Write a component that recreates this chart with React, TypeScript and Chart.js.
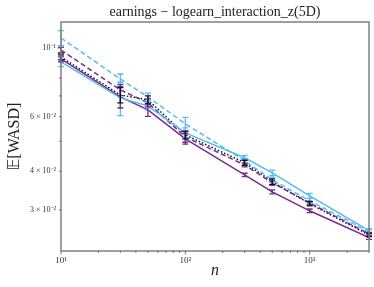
import React, { useEffect, useRef } from "react";
import { Chart, registerables } from "chart.js";
Chart.register(...registerables);

const titleText = "earnings − logearn_interaction_z(5D)";
const xLabel = "n";
const yLabelSymbol = "𝔼";
const yLabelRest = "[WASD]";

const nValues = [10, 30, 50, 100, 300, 500, 1000, 3000];

const blueSolid = [0.0901, 0.069, 0.065, 0.0532, 0.0442, 0.0395, 0.0333, 0.0257];
const blueSolidErr = [0.003, 0.0085, 0.002, 0.002, 0.0008, 0.0008, 0.0006, 0.0004];

const blueDashed = [0.1077, 0.0794, 0.0695, 0.0569, 0.0432, 0.0375, 0.0321, 0.0255];
const blueDashedErr = [0.006, 0.003, 0.002, 0.0028, 0.0008, 0.0008, 0.0006, 0.0004];

const purpleSolid = [0.0922, 0.0695, 0.0631, 0.0509, 0.0389, 0.0343, 0.0298, 0.0244];
const purpleSolidErr = [0.002, 0.0055, 0.003, 0.002, 0.0005, 0.0005, 0.0004, 0.0003];

const purpleDashed = [0.0985, 0.0732, 0.0665, 0.0516, 0.0419, 0.0367, 0.0316, 0.0251];
const purpleDashedErr = [0.002, 0.003, 0.002, 0.002, 0.0006, 0.0006, 0.0004, 0.0003];

const blackDotted = [0.0935, 0.0705, 0.068, 0.0524, 0.0426, 0.037, 0.0314, 0.0249];
const blackDottedErr = [0.002, 0.004, 0.002, 0.0015, 0.0008, 0.0008, 0.0005, 0.0003];

const xTickValues = [10, 20, 30, 40, 50, 60, 70, 80, 90, 100, 200, 300, 400, 500, 600, 700, 800, 900, 1000, 2000, 3000];
const xTickLabels: Record<number, string> = { 10: "10¹", 100: "10²", 1000: "10³" };
const yTickValues = [0.03, 0.04, 0.05, 0.06, 0.07, 0.08, 0.09, 0.1];
const yTickLabels: Record<number, string> = { 0.03: "3 × 10⁻²", 0.04: "4 × 10⁻²", 0.06: "6 × 10⁻²", 0.1: "10⁻¹" };

const BLUE = "#56bdf0";
const PURPLE = "#7a2a8e";
const BLACK = "#111111";

const errors = [blueSolidErr, blueDashedErr, purpleSolidErr, purpleDashedErr, blackDottedErr];

const decorPlugin = {
  id: "decor",
  afterDatasetsDraw(chart: any) {
    const ctx = chart.ctx;
    const xs = chart.scales.x;
    const ys = chart.scales.y;
    ctx.save();
    chart.data.datasets.forEach((ds: any, i: number) => {
      const err = errors[i];
      ctx.strokeStyle = ds.borderColor;
      ctx.lineWidth = 1.3;
      ctx.setLineDash([]);
      ds.data.forEach((p: any, j: number) => {
        const x = xs.getPixelForValue(p.x);
        const y1 = ys.getPixelForValue(p.y - err[j]);
        const y2 = ys.getPixelForValue(p.y + err[j]);
        ctx.beginPath();
        ctx.moveTo(x, y1);
        ctx.lineTo(x, y2);
        ctx.moveTo(x - 3, y1);
        ctx.lineTo(x + 3, y1);
        ctx.moveTo(x - 3, y2);
        ctx.lineTo(x + 3, y2);
        ctx.stroke();
      });
    });
    ctx.restore();
  },
  afterDraw(chart: any) {
    const ctx = chart.ctx;
    const a = chart.chartArea;
    const xs = chart.scales.x;
    const ys = chart.scales.y;
    ctx.save();
    ctx.strokeStyle = "#808080";
    ctx.lineWidth = 1.5;
    ctx.setLineDash([]);
    ctx.strokeRect(a.left, a.top, a.right - a.left, a.bottom - a.top);
    ctx.lineWidth = 0.8;
    ctx.strokeStyle = "#555";
    xTickValues.forEach((v) => {
      const x = xs.getPixelForValue(v);
      const len = xTickLabels[v] ? 3.5 : 2;
      ctx.beginPath();
      ctx.moveTo(x, a.bottom);
      ctx.lineTo(x, a.bottom + len);
      ctx.stroke();
    });
    yTickValues.forEach((v) => {
      const y = ys.getPixelForValue(v);
      const len = v === 0.1 ? 3.5 : 2;
      ctx.beginPath();
      ctx.moveTo(a.left, y);
      ctx.lineTo(a.left - len, y);
      ctx.stroke();
    });
    ctx.fillStyle = "#222";
    ctx.textAlign = "center";
    ctx.textBaseline = "middle";
    ctx.font = "14px 'Liberation Serif', serif";
    ctx.fillText(titleText, (a.left + a.right) / 2, 12);
    ctx.font = "italic 16px 'Liberation Serif', serif";
    ctx.fillText(xLabel, (a.left + a.right) / 2, 271);
    ctx.translate(15, (a.top + a.bottom) / 2);
    ctx.rotate(-Math.PI / 2);
    const symFont = "16px 'DejaVu Sans', serif";
    const restFont = "16px 'Liberation Serif', serif";
    ctx.font = symFont;
    const w1 = ctx.measureText(yLabelSymbol).width;
    ctx.font = restFont;
    const w2 = ctx.measureText(yLabelRest).width;
    const start = -(w1 + w2) / 2;
    ctx.textAlign = "left";
    ctx.font = symFont;
    ctx.fillText(yLabelSymbol, start, 0);
    ctx.font = restFont;
    ctx.fillText(yLabelRest, start + w1, 0);
    ctx.restore();
  },
};

function mk(label: string, data: number[], color: string, dash: number[], width: number) {
  return {
    label,
    data: nValues.map((n, i) => ({ x: n, y: data[i] })),
    borderColor: color,
    backgroundColor: color,
    borderDash: dash,
    borderWidth: width,
    pointRadius: 0,
    fill: false,
    tension: 0,
  };
}

export default function App() {
  const ref = useRef<HTMLCanvasElement | null>(null);
  useEffect(() => {
    document.body.style.margin = "0";
    const chart = new Chart(ref.current as HTMLCanvasElement, {
      type: "line",
      data: {
        datasets: [
          mk("blue solid", blueSolid, BLUE, [], 1.5),
          mk("blue dashed", blueDashed, BLUE, [5, 3], 1.5),
          mk("purple solid", purpleSolid, PURPLE, [], 1.5),
          mk("purple dashed", purpleDashed, PURPLE, [5, 3], 1.5),
          mk("black dotted", blackDotted, BLACK, [1.5, 2], 1.5),
        ],
      },
      options: {
        animation: false,
        responsive: false,
        parsing: false as any,
        layout: { padding: { left: 0, right: 5, top: 22, bottom: 0 } },
        plugins: { legend: { display: false }, title: { display: false }, tooltip: { enabled: false } },
        scales: {
          x: {
            type: "logarithmic",
            min: 10,
            max: 3000,
            grid: { display: false, drawTicks: false },
            border: { display: false },
            afterBuildTicks: (s: any) => {
              s.ticks = xTickValues.map((v) => ({ value: v }));
            },
            afterFit: (s: any) => {
              s.height = 36;
            },
            ticks: {
              autoSkip: false,
              maxRotation: 0,
              padding: 4,
              color: "#333",
              font: { family: "'Liberation Serif', serif", size: 9 },
              callback: (v: any) => xTickLabels[v as number] || "",
            },
          },
          y: {
            type: "logarithmic",
            min: 0.0221,
            max: 0.1213,
            grid: { display: false, drawTicks: false },
            border: { display: false },
            afterBuildTicks: (s: any) => {
              s.ticks = yTickValues.map((v) => ({ value: v }));
            },
            afterFit: (s: any) => {
              s.width = 61;
            },
            ticks: {
              autoSkip: false,
              padding: 5,
              color: "#333",
              font: { family: "'Liberation Serif', serif", size: 8 },
              callback: (v: any) => yTickLabels[v as number] || "",
            },
          },
        },
      },
      plugins: [decorPlugin],
    } as any);
    return () => chart.destroy();
  }, []);
  return (
    <div style={{ width: 374, height: 287 }}>
      <canvas ref={ref} width={374} height={287} style={{ display: "block" }} />
    </div>
  );
}
